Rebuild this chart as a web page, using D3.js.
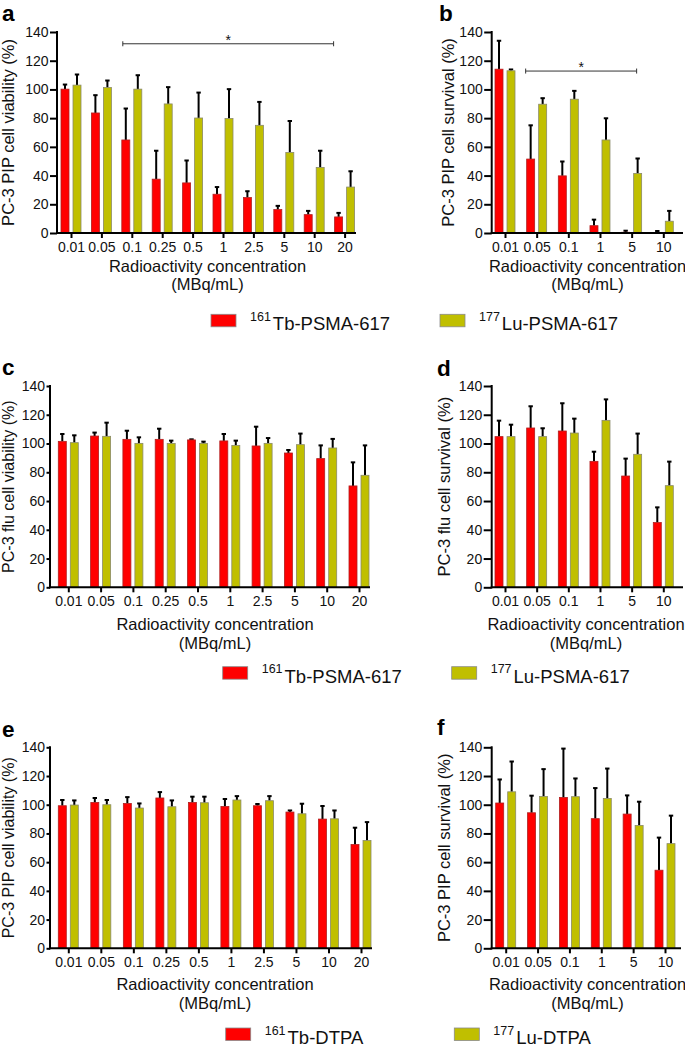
<!DOCTYPE html>
<html><head><meta charset="utf-8">
<script src="https://cdn.jsdelivr.net/npm/d3@7"></script>
<style>
html,body{margin:0;padding:0;background:#fff;}
svg{display:block;font-family:"Liberation Sans",Arial,sans-serif;}
</style></head>
<body>
<svg id="chart" width="685" height="1047"></svg>
<script>
// ---------- DATA ----------
const catsFull = ["0.01","0.05","0.1","0.25","0.5","1","2.5","5","10","20"];
const catsShort = ["0.01","0.05","0.1","1","5","10"];
const yTicks = [0,20,40,60,80,100,120,140];
const seriesKeys = ["Tb","Lu"];

const aTb    = [100.2, 83.6, 64.8, 37.5, 34.9, 27.0, 24.7, 16.3, 12.8, 11.2];
const aTbErr = [3.2, 12.4, 21.9, 19.8, 15.6, 5.0, 4.4, 2.6, 2.6, 2.8];
const aLu    = [103.0, 101.3, 100.2, 89.9, 80.1, 79.7, 75.0, 56.1, 45.7, 32.0];
const aLuErr = [7.4, 4.9, 9.7, 11.7, 17.7, 20.5, 16.3, 21.9, 11.6, 11.0];

const bTb    = [114.1, 51.5, 39.8, 5.1, 0.5, 0.2];
const bTbErr = [19.8, 23.5, 10.0, 4.2, 1.1, 1.2];
const bLu    = [113.0, 89.7, 93.2, 64.8, 41.5, 8.2];
const bLuErr = [0.9, 4.2, 5.8, 15.1, 10.4, 7.2];

const cTb    = [101.5, 105.2, 102.9, 102.9, 102.5, 101.8, 98.3, 93.4, 89.5, 70.5];
const cTbErr = [5.1, 2.4, 6.0, 7.4, 0.4, 4.8, 13.4, 2.1, 9.2, 16.4];
const cLu    = [100.6, 105.0, 100.1, 100.1, 100.1, 98.7, 100.1, 99.2, 96.9, 77.9];
const cLuErr = [5.1, 9.5, 4.2, 1.9, 1.2, 3.3, 3.7, 7.7, 6.3, 20.8];

const dTb    = [104.8, 110.8, 108.7, 87.6, 77.4, 45.0];
const dTbErr = [11.1, 15.1, 19.3, 6.7, 12.1, 10.6];
const dLu    = [104.8, 104.8, 107.3, 116.1, 92.5, 70.7];
const dLuErr = [8.3, 5.8, 10.0, 14.6, 14.4, 16.7];

const eTb    = [99.3, 101.6, 100.9, 104.7, 101.6, 98.8, 99.3, 94.9, 90.0, 72.3];
const eTbErr = [4.0, 3.1, 4.4, 4.1, 4.0, 5.2, 1.2, 1.1, 9.1, 11.7];
const eLu    = [99.8, 100.0, 97.7, 98.6, 101.4, 103.3, 102.8, 93.7, 90.2, 75.1];
const eLuErr = [3.2, 3.3, 3.2, 4.4, 4.2, 2.7, 3.2, 7.0, 5.8, 12.8];

const fTb    = [101.2, 94.4, 105.1, 90.3, 93.5, 54.4];
const fTbErr = [16.4, 11.9, 34.0, 21.3, 13.0, 22.7];
const fLu    = [109.0, 105.8, 105.6, 104.4, 85.6, 72.9];
const fLuErr = [21.1, 19.0, 12.7, 20.8, 16.5, 19.5];

const bracketA = {from:"0.1", to:"20", value:131.8, label:"*"};
const bracketB = {from:"0.05", to:"5", value:112.8, label:"*"};

const legendPSMA = [["161","Tb-PSMA-617"],["177","Lu-PSMA-617"]];
const legendDTPA = [["161","Tb-DTPA"],["177","Lu-DTPA"]];

const xTitle = "Radioactivity concentration";
const xUnit = "(MBq/mL)";

// ---------- STYLE ----------
const colors = {Tb:"#ff0000", Lu:"#c0bf00"};
const strokes = {Tb:"#b02020", Lu:"#8a8a6a"};
const svg = d3.select("#chart");

function panel(cfg){
  const g = svg.append("g");
  const y = d3.scaleLinear().domain([0,140]).range([cfg.yBottom, cfg.yTop]);
  const x = d3.scalePoint().domain(cfg.cats).range([cfg.first, cfg.last]);
  const xs = d3.scaleBand().domain(seriesKeys).range([-10,10]).paddingInner(1/3);
  const rows = cfg.cats.map((c,i)=>({cat:c, vals:[
    {key:"Tb", v:cfg.tb[i], e:cfg.tbErr[i]},
    {key:"Lu", v:cfg.lu[i], e:cfg.luErr[i]}]}));

  const grp = g.selectAll(".grp").data(rows).join("g")
    .attr("transform", d=>`translate(${x(d.cat)},0)`);
  grp.selectAll(".err").data(d=>d.vals).join("g").each(function(d){
    const gg = d3.select(this);
    const cx = xs(d.key) + xs.bandwidth()/2;
    gg.append("line").attr("x1",cx).attr("x2",cx)
      .attr("y1",y(d.v)).attr("y2",y(d.v+d.e))
      .attr("stroke","#000").attr("stroke-width",2);
    gg.append("line").attr("x1",cx-2.2).attr("x2",cx+2.2)
      .attr("y1",y(d.v+d.e)).attr("y2",y(d.v+d.e))
      .attr("stroke","#000").attr("stroke-width",2);
  });
  grp.selectAll("rect").data(d=>d.vals).join("rect")
    .attr("x", d=>xs(d.key)).attr("width", xs.bandwidth())
    .attr("y", d=>y(d.v)).attr("height", d=>Math.max(0.5, y(0)-y(d.v)))
    .attr("fill", d=>colors[d.key]).attr("stroke", d=>strokes[d.key]).attr("stroke-width",0.8);

  const ya = g.append("g").attr("transform",`translate(${cfg.axisX},0)`)
    .call(d3.axisLeft(y).tickValues(yTicks).tickSize(cfg.tickSize).tickPadding(1.5).tickSizeOuter(0));
  ya.select(".domain").remove();
  ya.selectAll(".tick line").attr("stroke","#000").attr("stroke-width",2);
  ya.selectAll("text").attr("font-size",14).attr("fill","#111").attr("font-family","Liberation Sans, Arial, sans-serif");
  g.append("line").attr("x1",cfg.axisX).attr("x2",cfg.axisX)
    .attr("y1",cfg.yTop-1).attr("y2",cfg.yBottom+1).attr("stroke","#000").attr("stroke-width",2);

  const xa = g.append("g").attr("transform",`translate(0,${cfg.yBottom})`)
    .call(d3.axisBottom(x).tickSize(5).tickPadding(4).tickSizeOuter(0));
  xa.select(".domain").remove();
  xa.selectAll(".tick line").attr("stroke","#000").attr("stroke-width",2);
  xa.selectAll("text").attr("font-size",14).attr("fill","#111").attr("font-family","Liberation Sans, Arial, sans-serif");
  g.append("line").attr("x1",cfg.axisX-1).attr("x2",cfg.axisEnd)
    .attr("y1",cfg.yBottom).attr("y2",cfg.yBottom).attr("stroke","#000").attr("stroke-width",2);

  g.append("text").attr("x",cfg.titleX).attr("y",cfg.titleY).attr("text-anchor","middle")
    .attr("font-size",16.5).attr("fill","#111").text(xTitle);
  g.append("text").attr("x",cfg.titleX).attr("y",cfg.titleY+18.5).attr("text-anchor","middle")
    .attr("font-size",16.5).attr("fill","#111").text(xUnit);
  const ym = (cfg.yTop+cfg.yBottom)/2;
  g.append("text").attr("transform",`translate(${cfg.yTitleX},${ym}) rotate(-90)`)
    .attr("text-anchor","middle").attr("font-size",cfg.yTitleSize||16.5).attr("fill","#111").text(cfg.yLabel);
  g.append("text").attr("x",cfg.letterX).attr("y",cfg.letterY)
    .attr("font-size",22.5).attr("font-weight","bold").attr("fill","#000").text(cfg.letter);

  if(cfg.bracket){
    const b = cfg.bracket;
    const x1 = x(b.from)+cfg.bOff[0], x2 = x(b.to)+cfg.bOff[1], by = y(b.value);
    const bg = g.append("g").attr("stroke","#333").attr("stroke-width",1);
    bg.append("line").attr("x1",x1).attr("x2",x2).attr("y1",by).attr("y2",by);
    bg.append("line").attr("x1",x1).attr("x2",x1).attr("y1",by-2.5).attr("y2",by+2.5);
    bg.append("line").attr("x1",x2).attr("x2",x2).attr("y1",by-2.5).attr("y2",by+2.5);
    g.append("text").attr("x",(x1+x2)/2).attr("y",by+1).attr("text-anchor","middle")
      .attr("font-size",14).attr("fill","#111").text(b.label);
  }
}

function legend(items, y, xs){
  items.forEach((it,i)=>{
    const k = seriesKeys[i];
    svg.append("rect").attr("x",xs[i]).attr("y",y).attr("width",25).attr("height",12.5)
      .attr("fill",colors[k]).attr("stroke","#8a8a8a").attr("stroke-width",0.8);
    const t = svg.append("text").attr("x",xs[i]+39).attr("y",y+16)
      .attr("font-size",18.5).attr("fill","#111");
    t.append("tspan").attr("font-size",12.5).attr("dy",-9.5).text(it[0]);
    t.append("tspan").attr("dy",9.5).attr("dx",2).text(it[1]);
  });
}

panel({cats:catsFull, tb:aTb, tbErr:aTbErr, lu:aLu, luErr:aLuErr,
  axisX:57, yTop:32, yBottom:233, first:71, last:344.6, axisEnd:356, tickSize:7,
  yTitleX:14, yLabel:"PC-3 PIP cell viability (%)", letter:"a", letterX:2, letterY:20.5,
  titleX:207.5, titleY:271.7, bracket:bracketA, bOff:[-9,-11]});
panel({cats:catsShort, tb:bTb, tbErr:bTbErr, lu:bLu, luErr:bLuErr,
  axisX:491.7, yTop:32, yBottom:233, first:505, last:663.3, axisEnd:683, tickSize:7.5,
  yTitleX:454, yLabel:"PC-3 PIP cell survival (%)", letter:"b", letterX:439, letterY:20.5,
  titleX:587.5, titleY:271.7, bracket:bracketB, bOff:[-11,5]});
panel({cats:catsFull, tb:cTb, tbErr:cTbErr, lu:cLu, luErr:cLuErr,
  axisX:50, yTop:386, yBottom:587.3, first:68.3, last:359, axisEnd:370, tickSize:3.5,
  yTitleX:13.5, yTitleSize:16, yLabel:"PC-3 flu cell viability (%)", letter:"c", letterX:2, letterY:375,
  titleX:215, titleY:630});
panel({cats:catsShort, tb:dTb, tbErr:dTbErr, lu:dLu, luErr:dLuErr,
  axisX:491.7, yTop:386, yBottom:587.3, first:505, last:663.3, axisEnd:683, tickSize:8,
  yTitleX:450, yLabel:"PC-3 flu cell survival (%)", letter:"d", letterX:437, letterY:376,
  titleX:586, titleY:630});
panel({cats:catsFull, tb:eTb, tbErr:eTbErr, lu:eLu, luErr:eLuErr,
  axisX:50, yTop:747.3, yBottom:948.3, first:68.3, last:361, axisEnd:372, tickSize:3.5,
  yTitleX:13.5, yTitleSize:16, yLabel:"PC-3 PIP cell viability (%)", letter:"e", letterX:2, letterY:737,
  titleX:215, titleY:990});
panel({cats:catsShort, tb:fTb, tbErr:fTbErr, lu:fLu, luErr:fLuErr,
  axisX:491.7, yTop:747.3, yBottom:948.3, first:505.7, last:665, axisEnd:681, tickSize:8,
  yTitleX:450, yLabel:"PC-3 PIP cell survival (%)", letter:"f", letterX:437, letterY:735,
  titleX:587.5, titleY:990});

legend(legendPSMA, 314.3, [211, 440]);
legend(legendPSMA, 666.7, [222.7, 451.7]);
legend(legendDTPA, 1028, [225.7, 454.3]);
</script>
</body></html>
